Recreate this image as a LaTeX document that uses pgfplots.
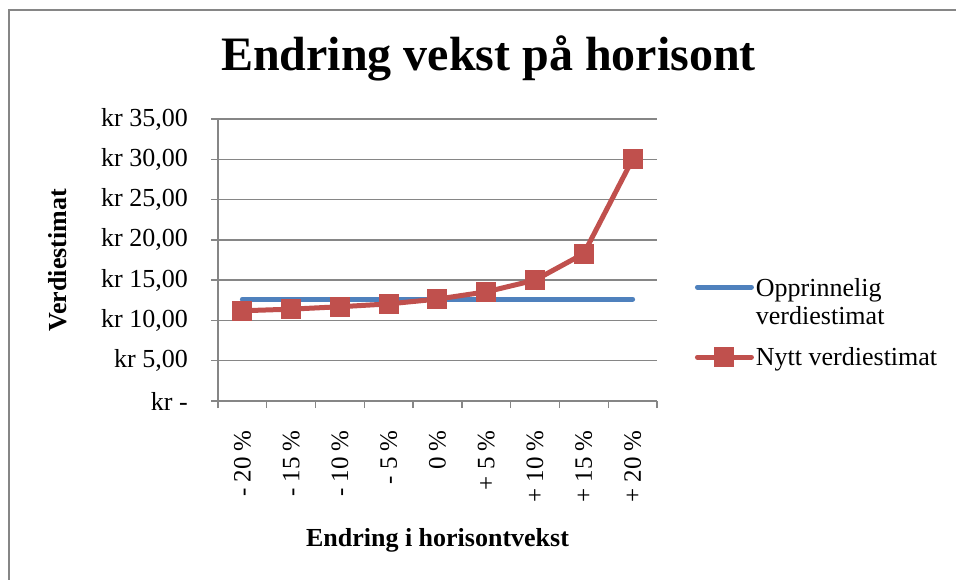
\documentclass[border=0pt]{standalone}
\usepackage{pgfplots}
\pgfplotsset{compat=1.18}
\usepackage{pgfplotstable}
\usepackage{fontspec}
\setmainfont{Liberation Serif}
\definecolor{exblue}{HTML}{4F81BD}
\definecolor{exred}{HTML}{C0504D}
\definecolor{gridc}{HTML}{868686}
\pgfplotsset{bluelegend/.style={legend image code/.code={\draw[##1] (0bp,15bp) -- (54bp,15bp);}}}
\pgfplotstableread{
x y
1 11.20
2 11.40
3 11.70
4 12.05
5 12.65
6 13.55
7 15.00
8 18.30
9 30.00
}\nytt
\pgfplotstableread{
x y
1 12.65
2 12.65
3 12.65
4 12.65
5 12.65
6 12.65
7 12.65
8 12.65
9 12.65
}\oppr
\begin{document}
\begin{tikzpicture}
\useasboundingbox (0,0) rectangle (956bp,-580bp);
\draw[gridc, line width=1.5bp] (9bp,-600bp) -- (9bp,-10bp) -- (990bp,-10bp);
\begin{axis}[
  at={(218bp,-401bp)}, anchor=south west,
  scale only axis, width=439bp, height=282bp,
  xmin=0.5, xmax=9.5, ymin=0, ymax=35,
  axis x line*=bottom, axis y line*=left,
  axis line style={gridc, line width=1.3bp},
  ymajorgrids, grid style={gridc, line width=1.3bp},
  tick align=outside, major tick length=7bp, minor tick length=7bp,
  tick style={gridc, line width=1.3bp},
  major x tick style={draw=none},
  xtick={1,...,9}, minor xtick={0.5,1.5,...,9.5},
  xticklabels={- 20 \%, - 15 \%, - 10 \%, - 5 \%, 0 \%, + 5 \%, + 10 \%, + 15 \%, + 20 \%},
  ytick={0,5,...,35},
  yticklabels={{kr -\hspace{14bp}},{kr 5,00},{kr 10,00},{kr 15,00},{kr 20,00},{kr 25,00},{kr 30,00},{kr 35,00}},
  tick label style={font=\fontsize{26bp}{30bp}\selectfont},
  xticklabel style={font=\fontsize{25bp}{30bp}\selectfont, rotate=90, anchor=east, inner sep=0pt, xshift=-22bp},
  yticklabel style={anchor=east, inner sep=0pt, xshift=-23bp},
  xlabel={Endring i horisontvekst},
  ylabel={Verdiestimat},
  label style={font=\fontsize{26bp}{30bp}\selectfont\bfseries},
  xlabel style={at={(axis description cs:0.5,-0.493)}, anchor=center},
  ylabel style={at={(axis description cs:-0.3645,0.5)}, anchor=center},
  title={Endring vekst på horisont},
  title style={font=\fontsize{48bp}{56bp}\selectfont\bfseries, at={(axis description cs:0.616,1.1525)}, anchor=base},
  legend style={draw=none, fill=none, at={(axis description cs:1.086,0.443)}, anchor=north west,
    font=\fontsize{26bp}{28bp}\selectfont, cells={anchor=west, align=left}, row sep=17.5bp, inner sep=0pt,
    nodes={inner sep=2bp}},
  legend image code/.code={\draw[mark repeat=2,mark phase=2,#1] plot coordinates {(0bp,0bp) (27bp,0bp) (54bp,0bp)};},
  clip=false,
]
\addplot[exblue, line width=5bp, line cap=round, mark=none, bluelegend] table {\oppr};
\addlegendentry{Opprinnelig\\verdiestimat}
\addplot[exred, line width=5bp, line cap=round, line join=round, mark=square*, mark size=9.5bp, mark options={solid, line width=0pt}] table {\nytt};
\addlegendentry{Nytt verdiestimat}
\end{axis}
\end{tikzpicture}
\end{document}
